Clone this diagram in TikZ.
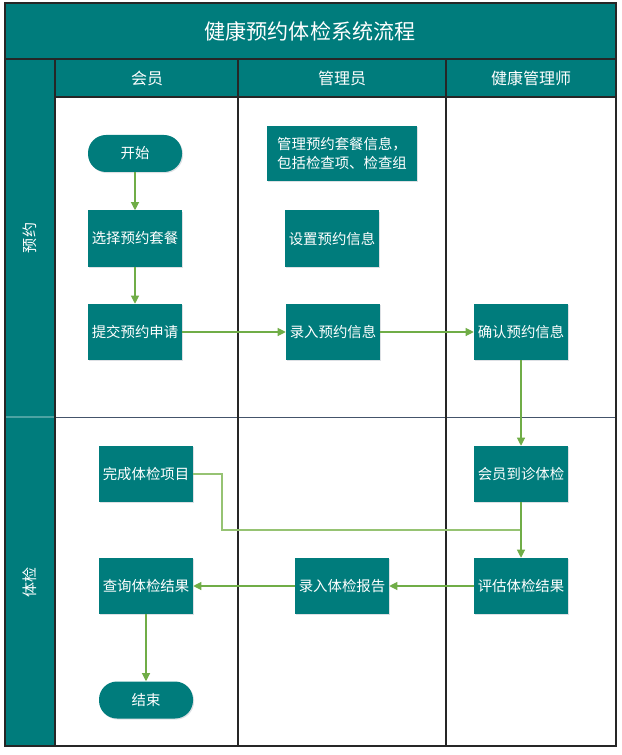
\documentclass[tikz,border=0pt]{standalone}
\usepackage{fontspec}
\setmainfont{Noto Sans CJK SC}
\usetikzlibrary{arrows.meta,shadows}
\definecolor{laneteal}{RGB}{0,124,124}
\definecolor{flowgreen}{RGB}{112,173,71}
\definecolor{joingreen}{RGB}{150,195,115}
\definecolor{framedark}{RGB}{38,38,38}
\definecolor{rowline}{RGB}{68,84,106}
\tikzset{
  box/.style={fill=laneteal, text=white, minimum width=70.5pt, minimum height=42pt,
    inner sep=1pt, font=\fontsize{10.8}{14}\selectfont,
    drop shadow={shadow xshift=0.8pt, shadow yshift=-0.8pt, fill=rowline, opacity=0.18}},
  pill/.style={box, minimum height=27.75pt, rounded corners=13.5pt},
  flow/.style={draw=flowgreen, line width=0.8pt, -{Triangle[length=6pt,width=6pt]}},
  joinline/.style={draw=joingreen, line width=0.8pt},
  head/.style={text=white, font=\fontsize{12}{14}\selectfont},
}
\begin{document}
\begin{tikzpicture}[x=0.75pt, y=-0.75pt]
        \useasboundingbox (0,0) rectangle (621,755);
        % title, header and lane columns
        \fill[laneteal] (5,3) rectangle (616,59) (55,59) rectangle (616,97) (5,59) rectangle (55,746);
        \draw[laneteal!70!white, line width=0.8pt] (5,417) -- (55,417);
        \draw[rowline, line width=0.6pt] (55,417) -- (616,417);
        \draw[framedark, line width=1pt] (5,59) -- (616,59) (55,97) -- (616,97) (55,59) -- (55,746)
          (238,59) -- (238,746) (446,59) -- (446,746);
        \draw[framedark, line width=1.2pt] (5,3) rectangle (616,746);
        \node[text=white, font=\fontsize{15.8}{18}\selectfont] (title) at (310,31) {健康预约体检系统流程};
        \node[head] (member) at (147,78) {会员};
        \node[head] (admin) at (342,78) {管理员};
        \node[head] (doctor) at (531,78) {健康管理师};
        \node[head, rotate=90, font=\fontsize{11.3}{14}\selectfont] (booking) at (30,238) {预约};
        \node[head, rotate=90, font=\fontsize{11.3}{14}\selectfont] (exam) at (30,582) {体检};
        % steps
        \node[pill] (start) at (135,153.5) {开始};
        \node[box, minimum width=112.5pt, minimum height=41pt, align=left] (manage) at (342,153.5) {管理预约套餐信息，\\包括检查项、检查组};
        \node[box] (choose) at (135,238.5) {选择预约套餐};
        \node[box] (setinfo) at (332,238.5) {设置预约信息};
        \node[box] (submit) at (135,332) {提交预约申请};
        \node[box] (enter) at (333,332) {录入预约信息};
        \node[box] (confirm) at (521,332) {确认预约信息};
        \node[box] (finish) at (146,474) {完成体检项目};
        \node[box] (arrive) at (521,474) {会员到诊体检};
        \node[box] (query) at (146,586) {查询体检结果};
        \node[box] (report) at (342,586) {录入体检报告};
        \node[box] (evaluate) at (521,586) {评估体检结果};
        \node[pill] (finishend) at (146,700) {结束};
        \coordinate (bend) at (222,530);
        % connectors
        \draw[flow] (start) -- (choose);
        \draw[flow] (choose) -- (submit);
        \draw[flow] (submit) -- (enter);
        \draw[flow] (enter) -- (confirm);
        \draw[flow] (confirm) -- (arrive);
        \draw[joinline] (finish.east) -| (bend) -- (bend -| evaluate.north);
        \draw[flow] (arrive) -- (evaluate);
        \draw[flow] (evaluate) -- (report);
        \draw[flow] (report) -- (query);
        \draw[flow] (query) -- (finishend);
      \end{tikzpicture}
\end{document}
